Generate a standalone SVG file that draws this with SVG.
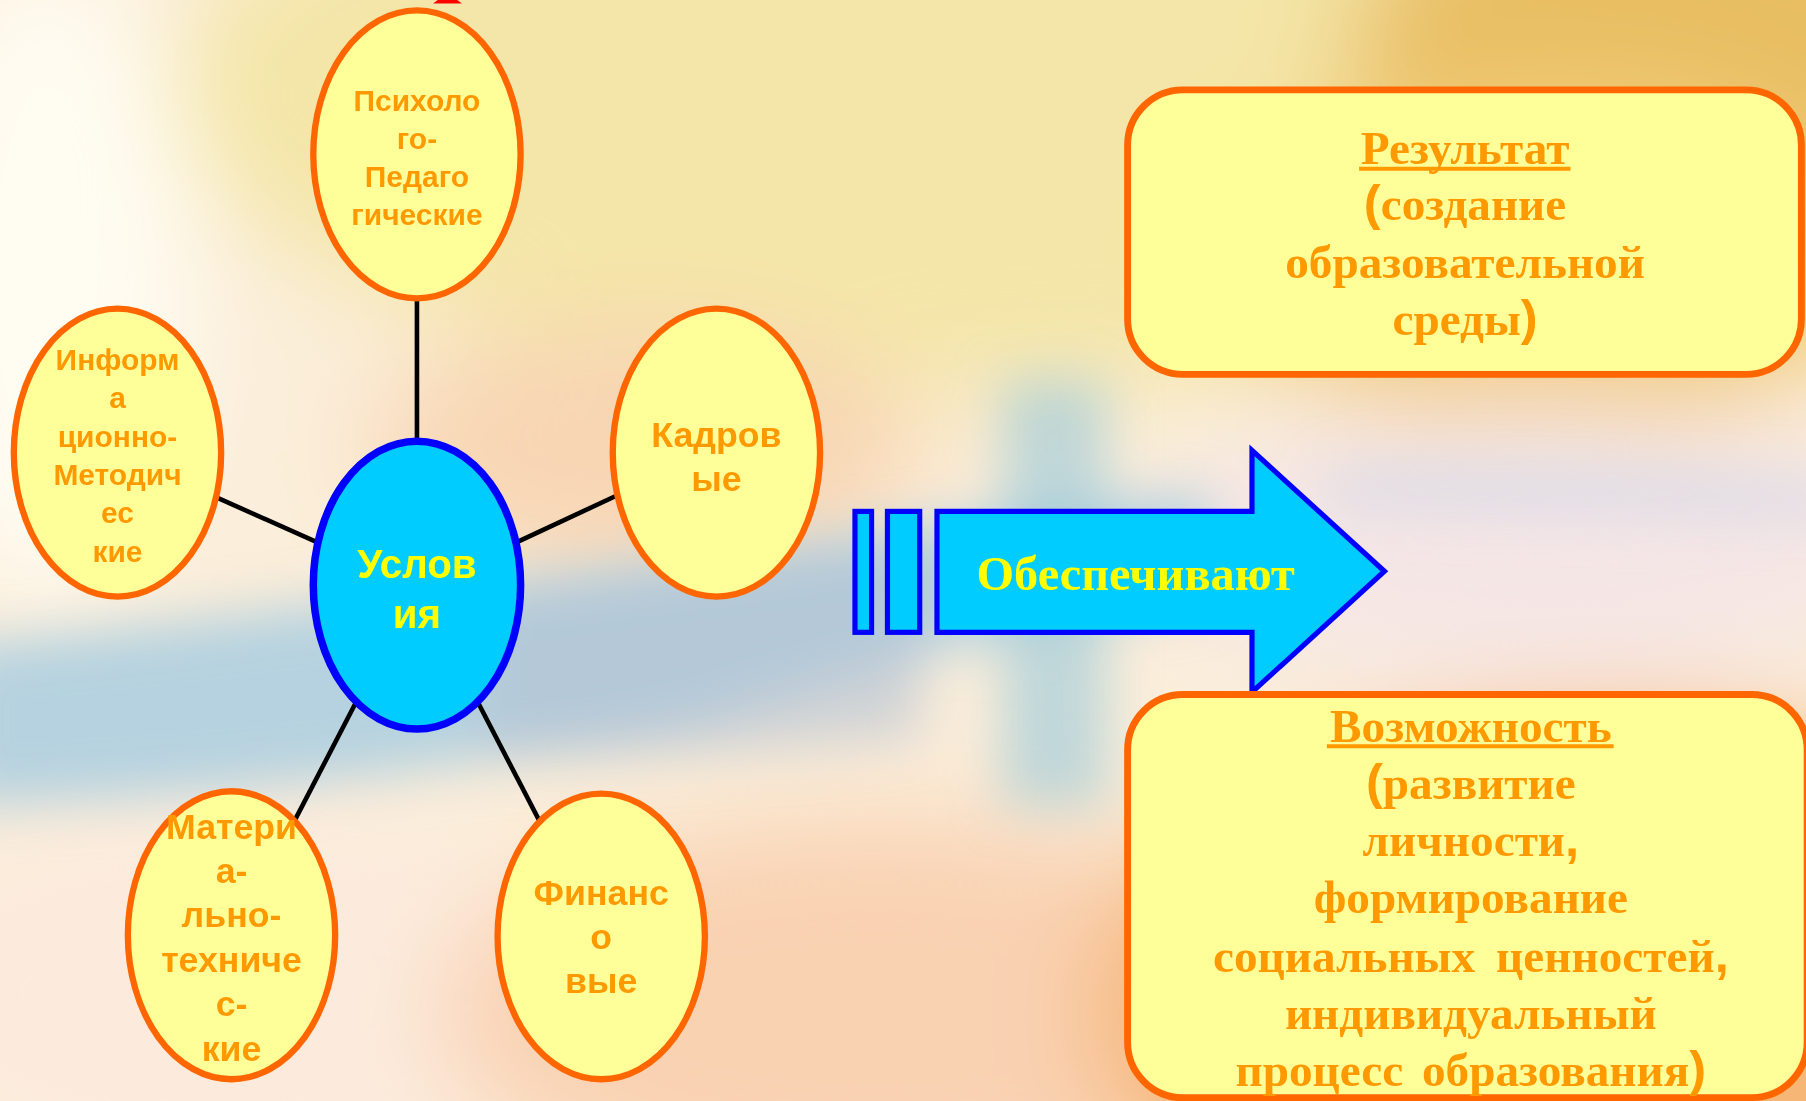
<svg xmlns="http://www.w3.org/2000/svg" width="1806" height="1101" viewBox="0 0 1806 1101">
<defs>
<style>
.node{fill:#FFFF99;stroke:#FF6600;stroke-width:5.5}
.hub{fill:#00CCFF;stroke:#0000FF;stroke-width:6.5}
.conn{stroke:#000000;stroke-width:4;fill:none}
.arr{fill:#00CCFF;stroke:#0000FF;stroke-width:4.5}
.box{fill:#FFFF99;stroke:#FF6600;stroke-width:6}
.t{font-family:"Liberation Sans",Arial,sans-serif;font-weight:bold;fill:#FF9900;text-anchor:middle}
.ht{font-family:"Liberation Sans",Arial,sans-serif;font-weight:bold;fill:#FFFF00;text-anchor:middle;font-size:35px}
.at{font-family:"Liberation Serif","Times New Roman",serif;font-weight:bold;fill:#FFFF00;text-anchor:middle;font-size:42px}
.s{font-family:"Liberation Serif","Times New Roman",serif;font-weight:bold;fill:#FF9900;text-anchor:middle;font-size:41px}
.p{font-family:"Liberation Sans",Arial,sans-serif;font-weight:bold;font-size:44px}
.ul{stroke:#FF9900;stroke-width:3.5}
</style>
<filter id="blur" x="-50%" y="-50%" width="200%" height="200%"><feGaussianBlur stdDeviation="45"/></filter>
<filter id="blur2" x="-50%" y="-50%" width="200%" height="200%"><feGaussianBlur stdDeviation="22"/></filter>
</defs>
<g transform="scale(1.151786)">
<g id="background">
<rect x="0" y="0" width="1568" height="956" fill="#FBEEDA"/>
<g filter="url(#blur)">
<ellipse cx="850" cy="80" rx="700" ry="260" fill="#F4E6A8"/>
<ellipse cx="1450" cy="40" rx="280" ry="160" fill="#E8BE62"/>
<ellipse cx="1350" cy="220" rx="300" ry="150" fill="#F2CC78"/>
<ellipse cx="40" cy="240" rx="130" ry="280" fill="#FFFCF2"/>
<ellipse cx="560" cy="390" rx="240" ry="110" fill="#F8D6B4"/>
<ellipse cx="1330" cy="470" rx="330" ry="120" fill="#F5E6E6"/>
<ellipse cx="200" cy="860" rx="320" ry="160" fill="#FCEBDD"/>
<ellipse cx="760" cy="880" rx="380" ry="170" fill="#F9D2B2"/>
<ellipse cx="1400" cy="880" rx="450" ry="260" fill="#F6B674"/>
</g>
<g filter="url(#blur2)">
<path d="M-40,560 C200,540 450,500 700,470 C850,450 950,430 1050,430 L1050,520 C900,540 750,580 600,630 C400,670 200,690 -40,700 Z" fill="#A9CCE0" opacity="0.85"/>
<path d="M420,520 C560,500 700,480 800,470 L800,640 C700,650 560,660 420,660 Z" fill="#B4C2D4" opacity="0.6"/>
<rect x="870" y="330" width="90" height="370" fill="#98C8D8" opacity="0.6"/>
<path d="M1150,410 C1300,400 1450,410 1600,420 L1600,450 C1450,445 1300,445 1150,440 Z" fill="#D6DAE6" opacity="0.8"/>
</g>
<path d="M380,0 L397,0 L401,3 L376,3 Z" fill="#FF0000"/>
</g>
<g id="connectors">
<line class="conn" x1="362" y1="255" x2="362" y2="390"/>
<line class="conn" x1="186" y1="431" x2="278" y2="472"/>
<line class="conn" x1="536" y1="430" x2="446" y2="472"/>
<line class="conn" x1="310" y1="608" x2="255" y2="714"/>
<line class="conn" x1="414" y1="608" x2="469" y2="714"/>
</g>
<g id="node-psych">
<ellipse class="node" cx="362" cy="134" rx="90" ry="125"/>
<text class="t" font-size="26"><tspan x="362" y="96">Психоло</tspan><tspan x="362" y="129">го-</tspan><tspan x="362" y="162">Педаго</tspan><tspan x="362" y="195">гические</tspan></text>
</g>
<g id="node-inform">
<ellipse class="node" cx="102" cy="393" rx="90" ry="125"/>
<text class="t" font-size="26"><tspan x="102" y="321">Информ</tspan><tspan x="102" y="354">а</tspan><tspan x="102" y="388">ционно-</tspan><tspan x="102" y="421">Методич</tspan><tspan x="102" y="454">ес</tspan><tspan x="102" y="488">кие</tspan></text>
</g>
<g id="node-kadr">
<ellipse class="node" cx="622" cy="393" rx="90" ry="125"/>
<text class="t" font-size="31"><tspan x="622" y="388">Кадров</tspan><tspan x="622" y="426">ые</tspan></text>
</g>
<g id="node-hub">
<ellipse class="hub" cx="362" cy="508" rx="90" ry="125"/>
<text class="ht"><tspan x="362" y="502">Услов</tspan><tspan x="362" y="545">ия</tspan></text>
</g>
<g id="node-mat">
<ellipse class="node" cx="201" cy="812" rx="90" ry="125"/>
<text class="t" font-size="31"><tspan x="201" y="728">Матери</tspan><tspan x="201" y="767">а-</tspan><tspan x="201" y="805">льно-</tspan><tspan x="201" y="844">техниче</tspan><tspan x="201" y="882">с-</tspan><tspan x="201" y="921">кие</tspan></text>
</g>
<g id="node-fin">
<ellipse class="node" cx="522" cy="813" rx="90" ry="124"/>
<text class="t" font-size="31"><tspan x="522" y="786">Финанс</tspan><tspan x="522" y="824">о</tspan><tspan x="522" y="862">вые</tspan></text>
</g>
<g id="node-arrow">
<rect class="arr" x="742.3" y="444" width="14.4" height="105"/>
<rect class="arr" x="770.5" y="444" width="28" height="105"/>
<polygon class="arr" points="813.5,444 1087,444 1087,391 1202,496 1087,601 1087,549 813.5,549"/>
<text class="at" x="986" y="512.5">Обеспечивают</text>
</g>
<g id="node-result">
<rect class="box" x="979" y="78" width="585" height="247" rx="48" ry="48"/>
<text class="s"><tspan x="1272" y="142">Результат</tspan><tspan x="1272" y="191"><tspan class="p">(</tspan>создание</tspan><tspan x="1272" y="241">образовательной</tspan><tspan x="1272" y="291">среды<tspan class="p">)</tspan></tspan></text>
<line class="ul" x1="1180" y1="146.5" x2="1363.5" y2="146.5"/>
</g>
<g id="node-possib">
<rect class="box" x="979" y="603" width="590" height="350" rx="48" ry="48"/>
<text class="s"><tspan x="1277" y="644">Возможность</tspan><tspan x="1277" y="693.5"><tspan class="p">(</tspan>развитие</tspan><tspan x="1277" y="743">личности<tspan class="p">,</tspan></tspan><tspan x="1277" y="793">формирование</tspan><tspan x="1277" y="843.5" word-spacing="8">социальных ценностей<tspan class="p">,</tspan></tspan><tspan x="1277" y="893">индивидуальный</tspan><tspan x="1277" y="943" word-spacing="6">процесс образования<tspan class="p">)</tspan></tspan></text>
<line class="ul" x1="1152" y1="648" x2="1401" y2="648"/>
</g>
</g>
</svg>
